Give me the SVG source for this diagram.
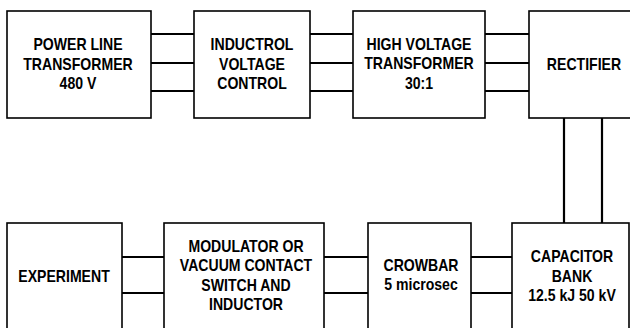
<svg xmlns="http://www.w3.org/2000/svg" width="630" height="328" viewBox="0 0 630 328">
<style>
.box{fill:#fff;stroke:#000;stroke-width:1.6}
.w{stroke:#000;stroke-width:2.2;fill:none}
text{font-family:"Liberation Sans",Arial,sans-serif;font-weight:bold;font-size:16px;text-anchor:middle;fill:#000}
</style>
<rect width="630" height="328" fill="#fff"/>
<g id="connectors">
<path class="w" d="M151 34H194M151 63H194M151 91H194"/>
<path class="w" d="M310 34H353M310 63H353M310 91H353"/>
<path class="w" d="M485 34H529M485 63H529M485 91H529"/>
<path class="w" d="M564 118V223M602 118V223"/>
<path class="w" d="M471 257H512M471 293H512"/>
<path class="w" d="M324 257H368M324 293H368"/>
<path class="w" d="M122 257H164M122 293H164"/>
</g>
<g id="power-line-transformer">
<rect class="box" x="7" y="11" width="144" height="107"/>
<g transform="translate(78 0) scale(0.88 1)">
<text y="50">POWER LINE</text>
<text y="70">TRANSFORMER</text>
<text y="89">480 V</text>
</g>
</g>
<g id="inductrol">
<rect class="box" x="194" y="11" width="116" height="107"/>
<g transform="translate(252 0) scale(0.88 1)">
<text y="50">INDUCTROL</text>
<text y="70">VOLTAGE</text>
<text y="89">CONTROL</text>
</g>
</g>
<g id="hv-transformer">
<rect class="box" x="353" y="11" width="132" height="107"/>
<g transform="translate(419 0) scale(0.88 1)">
<text y="50">HIGH VOLTAGE</text>
<text y="69">TRANSFORMER</text>
<text y="89">30:1</text>
</g>
</g>
<g id="rectifier">
<rect class="box" x="529" y="11" width="110" height="107"/>
<g transform="translate(584 0) scale(0.88 1)">
<text y="70">RECTIFIER</text>
</g>
</g>
<g id="experiment">
<rect class="box" x="7" y="223" width="115" height="120"/>
<g transform="translate(64 0) scale(0.88 1)">
<text y="282">EXPERIMENT</text>
</g>
</g>
<g id="modulator">
<rect class="box" x="164" y="223" width="160" height="120"/>
<g transform="translate(246 0) scale(0.88 1)">
<text y="252">MODULATOR OR</text>
<text y="271">VACUUM CONTACT</text>
<text y="291">SWITCH AND</text>
<text y="310">INDUCTOR</text>
</g>
</g>
<g id="crowbar">
<rect class="box" x="368" y="223" width="103" height="120"/>
<g transform="translate(421 0) scale(0.88 1)">
<text y="271">CROWBAR</text>
<text y="290">5 microsec</text>
</g>
</g>
<g id="capacitor-bank">
<rect class="box" x="512" y="223" width="117" height="120"/>
<g transform="translate(572 0) scale(0.88 1)">
<text y="262">CAPACITOR</text>
<text y="282">BANK</text>
<text y="301">12.5 kJ 50 kV</text>
</g>
</g>
</svg>
